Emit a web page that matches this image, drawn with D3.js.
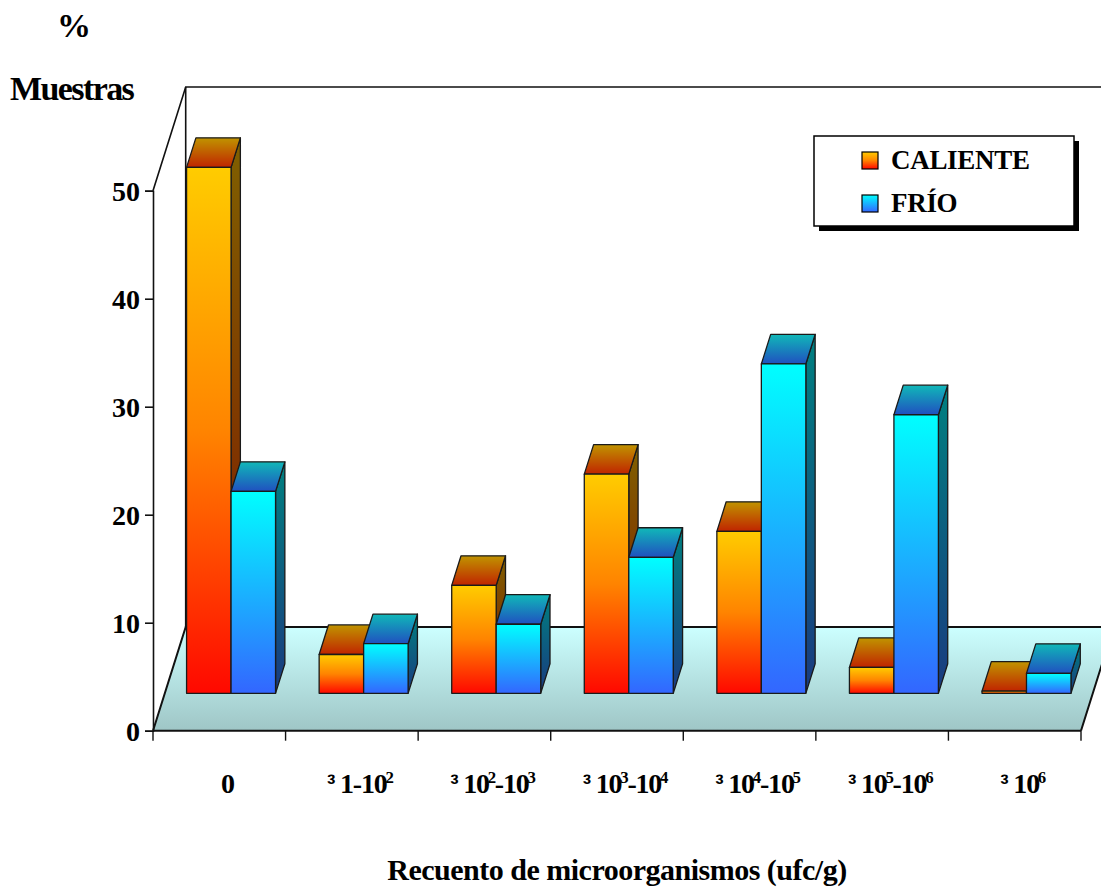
<!DOCTYPE html>
<html>
<head>
<meta charset="utf-8">
<script src="https://cdn.jsdelivr.net/npm/d3@7"></script>
<style>
  html, body { margin: 0; padding: 0; background: #ffffff; }
  svg { display: block; }
  text { font-family: "Liberation Serif", "Times New Roman", serif; font-weight: bold; fill: #000; }
</style>
</head>
<body>
<svg id="chart" width="1101" height="890"></svg>
<script>
// Category labels; "^n" marks a superscript digit
const categories = ["0", "³ 1-10^2", "³ 10^2-10^3", "³ 10^3-10^4", "³ 10^4-10^5", "³ 10^5-10^6", "³ 10^6"];
const seriesNames = ["CALIENTE", "FRÍO"];
const caliente = [48.7, 3.6, 10.0, 20.3, 15.0, 2.4, 0.2];
const frio = [18.7, 4.6, 6.4, 12.6, 30.5, 25.8, 1.85];
const yTicks = [0, 10, 20, 30, 40, 50];

const svg = d3.select("#chart");
const defs = svg.append("defs");

// Front plane geometry and oblique depth vector of the floor
const X0 = 153, X1 = 1081;
const depth = { x: 32.7, y: -103.7 };
const barFront = 0.36, barBack = 0.645;   // bar depth as fraction of floor depth
const fOff = { x: depth.x * barFront, y: depth.y * barFront };
const dOff = { x: depth.x * (barBack - barFront), y: depth.y * (barBack - barFront) };

const x = d3.scaleBand().domain(categories).range([X0, X1]);
const xs = d3.scaleBand().domain(seriesNames).range([0, x.bandwidth()]).paddingOuter(0.49);
const y = d3.scaleLinear().domain([0, 50]).range([730.7, 190.7]);

// Gradients
function grad(id, stops, x2 = 0, y2 = 1) {
  const g = defs.append("linearGradient").attr("id", id)
    .attr("x1", 0).attr("y1", 0).attr("x2", x2).attr("y2", y2);
  stops.forEach(([o, c]) => g.append("stop").attr("offset", o).attr("stop-color", c));
}
grad("floorGrad", [[0, "#ccffff"], [1, "#9fc6c6"]]);
grad("calFront", [[0, "#ffcc00"], [0.5, "#ff8400"], [1, "#ff0800"]]);
grad("calTop", [[0, "#c09400"], [1, "#c02400"]]);
grad("calSide", [[0, "#806000"], [1, "#801400"]]);
grad("friFront", [[0, "#00ffff"], [1, "#3366ff"]]);
grad("friTop", [[0, "#10b8b8"], [1, "#2050c0"]]);
grad("friSide", [[0, "#008080"], [1, "#1a3a80"]]);
const styles = {
  "CALIENTE": { front: "url(#calFront)", top: "url(#calTop)", side: "url(#calSide)" },
  "FRÍO": { front: "url(#friFront)", top: "url(#friTop)", side: "url(#friSide)" }
};

const yFront0 = y(0), yFrontTop = y(50);
const line = (pts) => "M" + pts.map(p => p.join(",")).join("L");

// Floor
const floorPts = [[X0, yFront0], [X1, yFront0], [X1 + depth.x, yFront0 + depth.y], [X0 + depth.x, yFront0 + depth.y]];
svg.append("path").attr("d", line(floorPts) + "Z").attr("fill", "url(#floorGrad)").attr("stroke", "none");
svg.append("path").attr("d", line([[X0, yFront0], [X0 + depth.x, yFront0 + depth.y], [X1 + depth.x, yFront0 + depth.y], [X1, yFront0]]))
  .attr("fill", "none").attr("stroke", "#111").attr("stroke-width", 2);

// Walls: side-wall top edge, back-left corner, back-wall top
function wall(pts) {
  svg.append("path").attr("d", line(pts)).attr("stroke", "#111").attr("stroke-width", 1.6).attr("fill", "none");
}
wall([[X0, yFrontTop], [X0 + depth.x, yFrontTop + depth.y], [X1 + depth.x + 40, yFrontTop + depth.y]]);
wall([[X0 + depth.x, yFrontTop + depth.y], [X0 + depth.x, yFront0 + depth.y]]);

// Y axis on the front plane
const yAxis = svg.append("g").attr("transform", `translate(${X0},0)`)
  .call(d3.axisLeft(y).tickValues(yTicks).tickSize(8).tickPadding(5).tickFormat(d3.format("d")));
yAxis.select(".domain").attr("stroke", "#111").attr("stroke-width", 1.6);
yAxis.selectAll(".tick line").attr("stroke", "#111").attr("stroke-width", 1.6);
yAxis.selectAll(".tick text")
  .attr("font-family", "Liberation Serif, serif").attr("font-weight", "bold")
  .attr("font-size", 28).attr("fill", "#000").attr("dy", "0.34em");

// X axis baseline and boundary ticks
svg.append("line").attr("x1", X0).attr("x2", X1).attr("y1", yFront0).attr("y2", yFront0)
  .attr("stroke", "#111").attr("stroke-width", 2);
const bounds = categories.map(c => x(c)).concat([x.range()[1]]);
svg.selectAll(".xtick").data(bounds).join("line").attr("class", "xtick")
  .attr("x1", d => d).attr("x2", d => d).attr("y1", yFront0).attr("y2", yFront0 + 10)
  .attr("stroke", "#111").attr("stroke-width", 1.4);

// Bars (oblique 3D boxes), drawn left to right so later boxes cover earlier side faces
const barData = [];
categories.forEach((c, i) => {
  barData.push({ cat: c, s: "CALIENTE", v: caliente[i] });
  barData.push({ cat: c, s: "FRÍO", v: frio[i] });
});
const bw = xs.bandwidth();
const bars = svg.append("g").selectAll("g").data(barData).join("g");
bars.each(function (d) {
  const g = d3.select(this);
  const xl = x(d.cat) + xs(d.s) + fOff.x, xr = xl + bw;
  const yt = y(d.v) + fOff.y, yb = y(0) + fOff.y;
  const st = styles[d.s];
  const edge = (p) => p.attr("stroke", "#1a1a1a").attr("stroke-width", 1.3).attr("stroke-linejoin", "round");
  edge(g.append("path").attr("fill", st.side)
    .attr("d", line([[xr, yt], [xr + dOff.x, yt + dOff.y], [xr + dOff.x, yb + dOff.y], [xr, yb]]) + "Z"));
  edge(g.append("path").attr("fill", st.top)
    .attr("d", line([[xl, yt], [xr, yt], [xr + dOff.x, yt + dOff.y], [xl + dOff.x, yt + dOff.y]]) + "Z"));
  edge(g.append("rect").attr("x", xl).attr("y", yt).attr("width", bw).attr("height", Math.max(yb - yt, 0.01))
    .attr("fill", st.front));
});

// Category labels with superscripts
function richText(sel, str, size) {
  const parts = str.split(/(\^\d|³)/).filter(p => p !== "");
  let pendingDy = 0;
  parts.forEach(p => {
    let t;
    if (p === "³") {
      t = sel.append("tspan").text("³ ").attr("font-family", "Liberation Sans, Arial, sans-serif")
        .attr("font-size", size * 0.9).attr("font-weight", "bold");
      return;
    } else if (p.startsWith("^")) {
      t = sel.append("tspan").text(p.slice(1)).attr("font-size", size * 0.6)
        .attr("dy", -size * 0.36 + pendingDy).attr("dx", -size * 0.04);
      pendingDy = size * 0.36;
      return;
    }
    t = sel.append("tspan").text(p.replace(/^ /, ""));
    if (pendingDy) { t.attr("dy", pendingDy); pendingDy = 0; }
  });
}
svg.append("g").selectAll("text").data(categories).join("text")
  .attr("x", d => x(d) + x.bandwidth() / 2 + 8)
  .attr("y", 793).attr("text-anchor", "middle").attr("font-size", 28).attr("letter-spacing", -1.2)
  .each(function (d) { richText(d3.select(this), d, 28); });

// Axis titles
svg.append("text").attr("x", 74).attr("y", 37).attr("text-anchor", "middle").attr("font-size", 34).text("%");
svg.append("text").attr("x", 10).attr("y", 100).attr("font-size", 34).attr("letter-spacing", -1.6).text("Muestras");
svg.append("text").attr("x", 617).attr("y", 880).attr("text-anchor", "middle").attr("font-size", 30)
  .attr("letter-spacing", -0.5).text("Recuento de microorganismos (ufc/g)");

// Legend
const legend = svg.append("g").attr("transform", "translate(814,136)");
legend.append("rect").attr("x", 5).attr("y", 5).attr("width", 260).attr("height", 90).attr("fill", "#000");
legend.append("rect").attr("width", 260).attr("height", 90).attr("fill", "#fff").attr("stroke", "#000").attr("stroke-width", 1.5);
const legendFill = { "CALIENTE": "url(#calFront)", "FRÍO": "url(#friFront)" };
const li = legend.selectAll("g.item").data(seriesNames).join("g").attr("class", "item")
  .attr("transform", (d, i) => `translate(48,${16 + i * 43})`);
li.append("rect").attr("width", 16).attr("height", 17).attr("fill", d => legendFill[d])
  .attr("stroke", "#000").attr("stroke-width", 1.2);
li.append("text").attr("x", 29).attr("y", 17).attr("font-size", 27).attr("letter-spacing", -0.3).text(d => d);
</script>
</body>
</html>
